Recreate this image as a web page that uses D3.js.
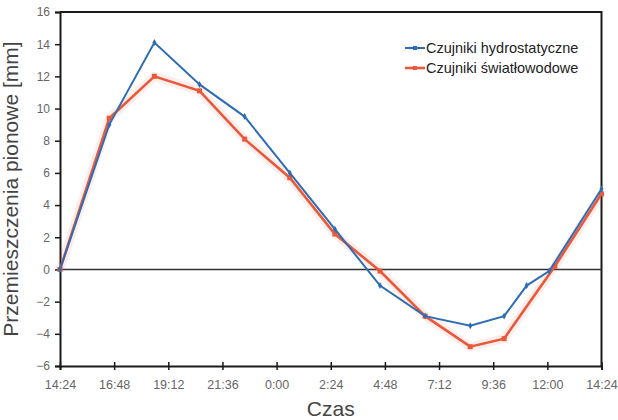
<!DOCTYPE html>
<html>
<head>
<meta charset="utf-8">
<script src="https://cdn.jsdelivr.net/npm/d3@7"></script>
<style>
  body { margin: 0; background: #fff; }
  text { font-family: 'Liberation Sans', Arial, sans-serif; }
</style>
</head>
<body>
<div id="chart"></div>
<script>
// Czujniki hydrostatyczne
const timesHydro = ['14:24', '16:35', '18:35', '20:35', '22:35', '0:35', '2:35', '4:35', '6:35', '8:35', '10:05', '11:05', '12:05', '14:24']
const valuesHydro = [0, 9.0, 14.1, 11.5, 9.5, 6.0, 2.5, -1.0, -2.9, -3.5, -2.9, -1.0, -0.1, 5.0]

// Czujniki światłowodowe
const timesFiber = ['14:24', '16:35', '18:35', '20:35', '22:35', '0:35', '2:35', '4:35', '6:35', '8:35', '10:05', '12:20', '14:24']
const valuesFiber = [0, 9.4, 12.0, 11.1, 8.1, 5.7, 2.2, -0.1, -2.9, -4.8, -4.3, 0.2, 4.7]

const seriesNames = ['Czujniki hydrostatyczne', 'Czujniki światłowodowe']
const xTickLabels = ['14:24', '16:48', '19:12', '21:36', '0:00', '2:24', '4:48', '7:12', '9:36', '12:00', '14:24']
const yTicks = [-6, -4, -2, 0, 2, 4, 6, 8, 10, 12, 14, 16]

const margin = { top: 12, right: 16.5, bottom: 54, left: 60 }
const width = 618 - margin.left - margin.right
const height = 420 - margin.top - margin.bottom

const START = 14 * 60 + 24

// minutes since the start (14:24), unwrapping past midnight
function toMinutes(times) {
  let prev = -1
  return times.map(t => {
    const [h, m] = t.split(':').map(Number)
    let v = h * 60 + m - START
    while (v < prev) v += 1440
    prev = v
    return v
  })
}

const hydro = toMinutes(timesHydro).map((t, i) => ({ t: t, v: valuesHydro[i] }))
const fiber = toMinutes(timesFiber).map((t, i) => ({ t: t, v: valuesFiber[i] }))

const svg = d3
  .select('#chart')
  .append('svg')
  .attr('width', 618)
  .attr('height', 420)
  .append('g')
  .attr('transform', 'translate(' + margin.left + ',' + margin.top + ')')

const xPositionScale = d3.scaleLinear().domain([0, 1440]).range([0, width])
const yPositionScale = d3.scaleLinear().domain([-6, 16]).range([height, 0])

const blue = '#2f6db3'
const red = '#e8593c'

// frame (top and right)
svg
  .append('path')
  .attr('d', 'M0,0H' + width + 'V' + height)
  .attr('fill', 'none')
  .attr('stroke', '#1a1a1a')
  .attr('stroke-width', 2)

// zero line
svg
  .append('line')
  .attr('x1', 0)
  .attr('x2', width)
  .attr('y1', yPositionScale(0))
  .attr('y2', yPositionScale(0))
  .attr('stroke', '#333')
  .attr('stroke-width', 1.5)

// y axis
const yAxis = d3.axisLeft(yPositionScale).tickValues(yTicks).tickSize(5).tickPadding(5)
const yG = svg.append('g').attr('class', 'axis y-axis').call(yAxis)
yG.select('.domain').attr('stroke', '#1a1a1a').attr('stroke-width', 2)
yG.selectAll('line').attr('stroke', '#1a1a1a').attr('stroke-width', 1.5)
yG.selectAll('text').attr('fill', '#666').attr('font-size', 12)

// x axis
const xTickValues = xTickLabels.map((d, i) => i * 144)
const xAxis = d3
  .axisBottom(xPositionScale)
  .tickValues(xTickValues)
  .tickSize(4)
  .tickFormat((d, i) => xTickLabels[i])
const xG = svg
  .append('g')
  .attr('class', 'axis x-axis')
  .attr('transform', 'translate(0,' + height + ')')
  .call(xAxis)
xG.select('.domain').attr('stroke', '#1a1a1a').attr('stroke-width', 2)
xG.selectAll('line').attr('y1', -4).attr('stroke', '#1a1a1a').attr('stroke-width', 1.5)
xG.selectAll('text').attr('y', 14).attr('fill', '#666').attr('font-size', 12.5)

// axis titles
svg
  .append('text')
  .attr('x', width / 2)
  .attr('y', height + 50)
  .attr('text-anchor', 'middle')
  .attr('font-size', 21)
  .attr('fill', '#444')
  .text('Czas')

svg
  .append('text')
  .attr('transform', 'translate(' + (-42) + ',' + height / 2 + ') rotate(-90)')
  .attr('text-anchor', 'middle')
  .attr('font-size', 21)
  .attr('fill', '#444')
  .text('Przemieszczenia pionowe [mm]')

const line = d3
  .line()
  .x(d => xPositionScale(d.t))
  .y(d => yPositionScale(d.v))

// faint halo around the red series
svg
  .append('path')
  .datum(fiber)
  .attr('d', line)
  .attr('fill', 'none')
  .attr('stroke', red)
  .attr('stroke-opacity', 0.1)
  .attr('stroke-width', 9)
  .attr('stroke-linejoin', 'round')

svg
  .append('path')
  .datum(fiber)
  .attr('d', line)
  .attr('fill', 'none')
  .attr('stroke', red)
  .attr('stroke-width', 2.6)

svg
  .selectAll('.fiber-pt')
  .data(fiber)
  .enter()
  .append('rect')
  .attr('class', 'fiber-pt')
  .attr('x', d => xPositionScale(d.t) - 2.5)
  .attr('y', d => yPositionScale(d.v) - 2.5)
  .attr('width', 5)
  .attr('height', 5)
  .attr('fill', red)

svg
  .append('path')
  .datum(hydro)
  .attr('d', line)
  .attr('fill', 'none')
  .attr('stroke', blue)
  .attr('stroke-width', 2)

svg
  .selectAll('.hydro-pt')
  .data(hydro)
  .enter()
  .append('path')
  .attr('class', 'hydro-pt')
  .attr('d', d3.symbol().type(d3.symbolDiamond).size(14))
  .attr('transform', d => 'translate(' + xPositionScale(d.t) + ',' + yPositionScale(d.v) + ')')
  .attr('fill', blue)

// legend
const legend = svg.append('g').attr('transform', 'translate(' + (405 - margin.left) + ',' + (48 - margin.top) + ')')
const legendColors = [blue, red]
seriesNames.forEach((name, i) => {
  const g = legend.append('g').attr('transform', 'translate(0,' + i * 20 + ')')
  g.append('line')
    .attr('x1', 0)
    .attr('x2', 20)
    .attr('stroke', legendColors[i])
    .attr('stroke-width', i === 0 ? 2 : 2.6)
  g.append('rect')
    .attr('x', 8)
    .attr('y', -2)
    .attr('width', 4)
    .attr('height', 4)
    .attr('fill', legendColors[i])
  g.append('text')
    .attr('x', 21)
    .attr('dy', '0.35em')
    .attr('font-size', 14.5)
    .attr('fill', '#222')
    .text(name)
})
</script>
</body>
</html>
